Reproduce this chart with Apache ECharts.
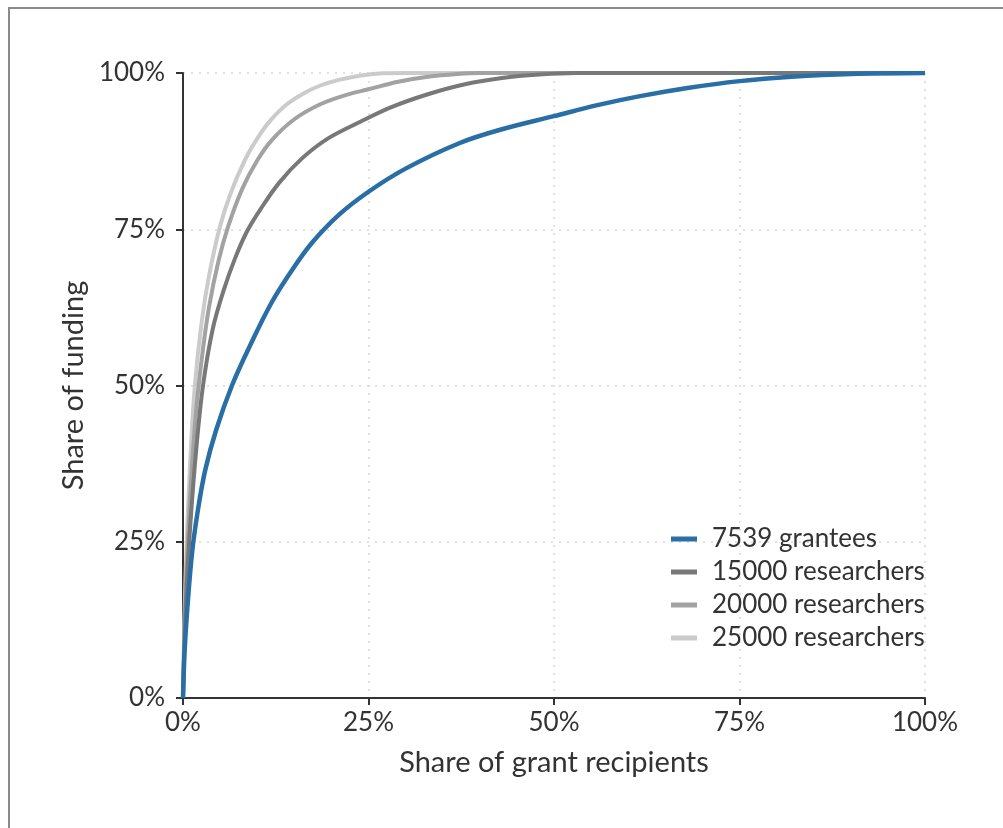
<!DOCTYPE html>
<html>
<head>
<meta charset="utf-8">
<script src="https://cdn.jsdelivr.net/npm/echarts@6/dist/echarts.min.js"></script>
<style>
  html, body { margin: 0; padding: 0; background: #fff; }
  #frame { position: absolute; left: 8px; top: 7px; width: 1100px; height: 900px; border: 2px solid #8a8a8a; box-sizing: border-box; }
  #main { position: absolute; left: 0; top: 0; width: 1003px; height: 828px; }
</style>
</head>
<body>
<div id="frame"></div>
<div id="main"></div>
<script>
// share of grant recipients (%) / share of funding (%)
const grantP = [0, 0.2, 0.5, 1.2, 2, 3, 4.5, 6.6, 9, 12, 15, 17.5, 21, 25, 30, 37.3, 43, 50, 56, 61.6, 68, 75, 82, 90, 100];
const grantV = [0, 7, 13, 23, 30, 36.5, 43, 50, 56.3, 63.4, 69, 73, 77.3, 81, 84.7, 88.8, 91, 93.1, 94.9, 96.3, 97.6, 98.7, 99.4, 99.85, 100];

const r15P = [0, 0.2, 0.5, 1, 1.8, 2.7, 4, 5.5, 7, 8.6, 10.5, 13, 16, 19.5, 23.9, 28, 33, 38, 43, 48, 53, 100];
const r15V = [0, 9, 18, 28, 40, 50, 59, 65.3, 70.3, 74.6, 78.3, 82.5, 86.3, 89.5, 92.2, 94.5, 96.6, 98.2, 99.2, 99.75, 100, 100];

const r20P = [0, 0.2, 0.5, 1, 1.7, 2.5, 3.5, 4.8, 6.1, 8, 10, 12, 15, 18.5, 22, 25, 29, 33, 37, 40, 100];
const r20V = [0, 11, 21, 33, 45, 54, 62.5, 70, 75.5, 81.5, 86, 89.3, 92.6, 95, 96.5, 97.4, 98.6, 99.4, 99.85, 100, 100];

const r25P = [0, 0.2, 0.5, 1, 1.6, 2.5, 3.5, 5, 6.5, 8.4, 10, 11.7, 14, 16.5, 18.5, 21, 24, 27, 30, 100];
const r25V = [0, 13, 25, 38.5, 50, 60, 67.5, 75.5, 81, 86.2, 89.5, 92.3, 95, 96.9, 98, 98.9, 99.6, 99.95, 100, 100];

const seriesNames = ['7539 grantees', '15000 researchers', '20000 researchers', '25000 researchers'];
const seriesColors = ['#2a6ea6', '#787878', '#a2a2a2', '#cbcbcb'];

function pairs(p, v) {
  return p.map((x, i) => [x, v[i]]);
}

const chart = echarts.init(document.getElementById('main'));

const lineSeries = (name, color, data, z, width) => ({
  name: name,
  type: 'line',
  data: data,
  z: z,
  symbol: 'none',
  smooth: 0.35,
  lineStyle: { color: color, width: width },
  itemStyle: { color: color }
});

chart.setOption({
  animation: false,
  backgroundColor: 'transparent',
  textStyle: { fontFamily: 'Lato' },
  grid: { left: 183, right: 78, top: 73, bottom: 130 },
  legend: {
    data: seriesNames,
    orient: 'vertical',
    left: 666,
    top: 521,
    icon: 'rect',
    itemWidth: 26,
    itemHeight: 5,
    itemGap: 7,
    textStyle: { fontFamily: 'Lato', fontSize: 26, color: '#333', padding: [0, 0, 0, 10] }
  },
  xAxis: {
    type: 'value',
    min: 0,
    max: 100,
    interval: 25,
    name: 'Share of grant recipients',
    nameLocation: 'middle',
    nameGap: 50,
    nameTextStyle: { fontFamily: 'Lato', fontSize: 29, color: '#333' },
    axisLine: { show: true, lineStyle: { color: '#333', width: 2 } },
    axisTick: { show: true, length: 7, lineStyle: { color: '#333', width: 2 } },
    axisLabel: { formatter: '{value}%', fontSize: 26, color: '#333', margin: 12 },
    splitLine: { show: true, lineStyle: { color: '#d8d8d8', type: [2, 6], width: 1.5 } }
  },
  yAxis: {
    type: 'value',
    min: 0,
    max: 100,
    interval: 25,
    name: 'Share of funding',
    nameLocation: 'middle',
    nameGap: 83,
    nameTextStyle: { fontFamily: 'Lato', fontSize: 29, color: '#333' },
    axisLine: { show: true, lineStyle: { color: '#333', width: 2 } },
    axisTick: { show: true, length: 7, lineStyle: { color: '#333', width: 2 } },
    axisLabel: { formatter: '{value}%', fontSize: 26, color: '#333', margin: 18 },
    splitLine: { show: true, lineStyle: { color: '#d8d8d8', type: [2, 6], width: 1.5 } }
  },
  series: [
    lineSeries(seriesNames[0], seriesColors[0], pairs(grantP, grantV), 5, 4.5),
    lineSeries(seriesNames[1], seriesColors[1], pairs(r15P, r15V), 4, 4),
    lineSeries(seriesNames[2], seriesColors[2], pairs(r20P, r20V), 3, 4),
    lineSeries(seriesNames[3], seriesColors[3], pairs(r25P, r25V), 2, 4)
  ]
});
</script>
</body>
</html>
